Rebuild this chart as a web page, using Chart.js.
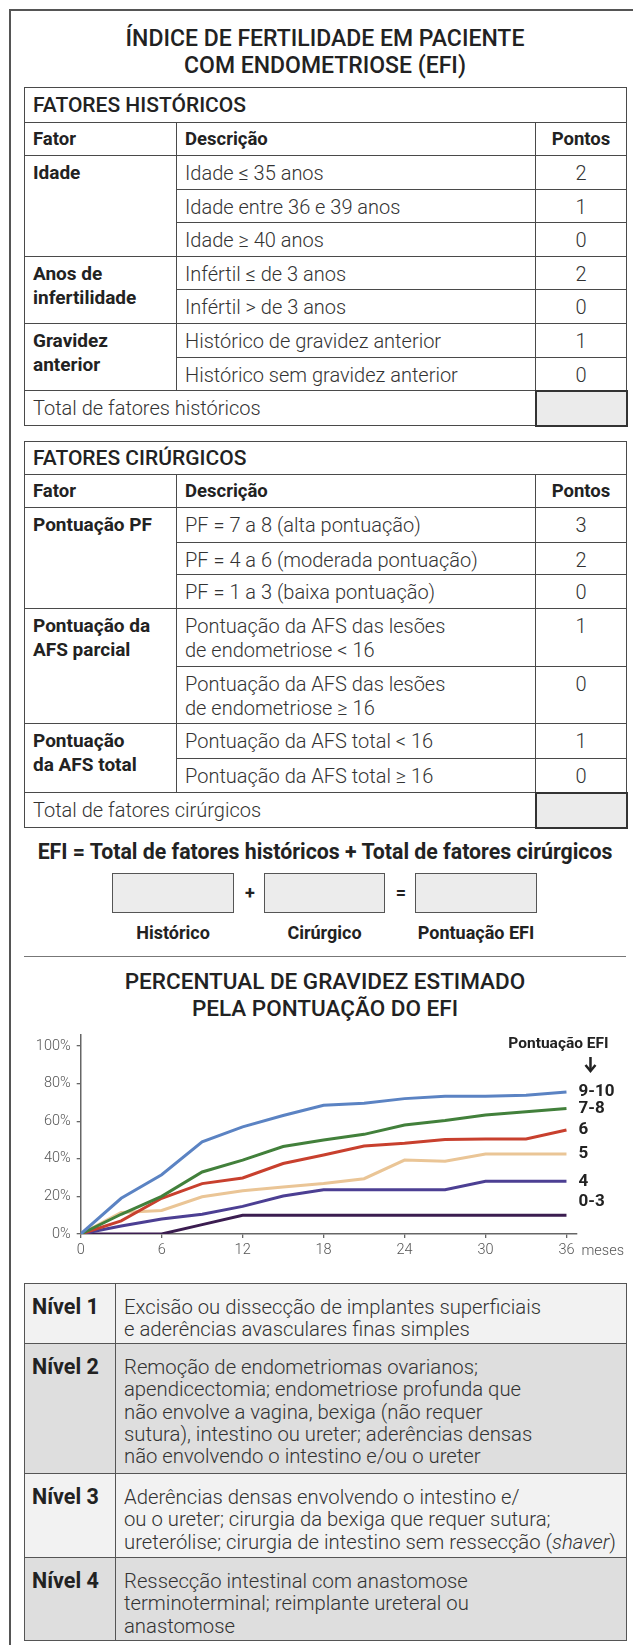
<!DOCTYPE html>
<html lang="pt">
<head>
<meta charset="utf-8">
<title>EFI</title>
<script src="https://cdn.jsdelivr.net/npm/chart.js@4.4.1/dist/chart.umd.min.js"></script>
<style>
  html, body { margin: 0; padding: 0; overflow: hidden; background: #fff; }
  body { width: 633px; height: 1645px; position: relative; font-family: Roboto, "Open Sans", sans-serif; color: #222; }
  .frame { position: absolute; left: 9px; top: 9px; width: 700px; height: 1700px; border-left: 2px solid #555; border-top: 2px solid #555; }
  .title { position: absolute; left: 24px; width: 602px; text-align: center; font-weight: 500; font-size: 23px; line-height: 27px; }
  table { position: absolute; left: 24px; width: 602px; border-collapse: collapse; table-layout: fixed; }
  td { border: 1.5px solid #4a4a4a; padding: 5px 8px 0 8px; vertical-align: top; line-height: 24px; font-size: 20px; }
  td.desc { font-weight: 300; color: #333; }
  td.pts { font-weight: 300; color: #333; text-align: center; }
  td.fac { font-weight: 700; color: #222; font-size: 19px; }
  tr.cap td { font-weight: 500; font-size: 21px; vertical-align: middle; padding-top: 0; }
  tr.head td { font-weight: 700; font-size: 18.5px; vertical-align: middle; padding-top: 0; }
  tr.tot td { font-weight: 300; color: #333; vertical-align: middle; padding-top: 0; }
  tr.tot td.sum { background: #ebebeb; border: 2px solid #333; }
  .formula { position: absolute; left: 14px; width: 622px; top: 837px; text-align: center; font-weight: 700; font-size: 21.3px; line-height: 30px; }
  .box { position: absolute; top: 873px; height: 38px; background: #ececec; border: 1.5px solid #555; }
  .op { position: absolute; top: 879px; font-weight: 700; font-size: 18px; line-height: 28px; width: 20px; text-align: center; }
  .lbl { position: absolute; top: 921px; font-weight: 700; font-size: 18px; line-height: 24px; text-align: center; }
  .rule { position: absolute; left: 24px; top: 956px; width: 602px; height: 0; border-top: 1.5px solid #777; }
  #efiChart { position: absolute; left: 0; top: 1020px; }
  table.niv td { border: 1.5px solid #555; padding: 12px 8px 0 8px; line-height: 22.3px; font-size: 20.3px; }
  table.niv td.lv { font-weight: 700; font-size: 21.5px; color: #222; padding-left: 7px; }
  table.niv td.tx { font-weight: 300; color: #333; }
  tr.lt td { background: #f2f2f2; }
  tr.dk td { background: #dedede; }
</style>
</head>
<body>
<div class="frame"></div>

<div class="title" style="top:25px">ÍNDICE DE FERTILIDADE EM PACIENTE<br>COM ENDOMETRIOSE (EFI)</div>

<table style="top:87px">
  <colgroup><col style="width:152px"><col style="width:359px"><col style="width:91px"></colgroup>
  <tr class="cap" style="height:35px"><td colspan="3">FATORES HISTÓRICOS</td></tr>
  <tr class="head" style="height:33px"><td>Fator</td><td>Descrição</td><td style="text-align:center">Pontos</td></tr>
  <tr style="height:33.6px"><td class="fac" rowspan="3">Idade</td><td class="desc">Idade ≤ 35 anos</td><td class="pts">2</td></tr>
  <tr style="height:33.6px"><td class="desc">Idade entre 36 e 39 anos</td><td class="pts">1</td></tr>
  <tr style="height:33.6px"><td class="desc">Idade ≥ 40 anos</td><td class="pts">0</td></tr>
  <tr style="height:33.6px"><td class="fac" rowspan="2">Anos de<br>infertilidade</td><td class="desc">Infértil ≤ de 3 anos</td><td class="pts">2</td></tr>
  <tr style="height:33.6px"><td class="desc">Infértil &gt; de 3 anos</td><td class="pts">0</td></tr>
  <tr style="height:33.6px"><td class="fac" rowspan="2">Gravidez<br>anterior</td><td class="desc">Histórico de gravidez anterior</td><td class="pts">1</td></tr>
  <tr style="height:33.6px"><td class="desc">Histórico sem gravidez anterior</td><td class="pts">0</td></tr>
  <tr class="tot" style="height:35px"><td colspan="2">Total de fatores históricos</td><td class="sum"></td></tr>
</table>

<table style="top:441px">
  <colgroup><col style="width:152px"><col style="width:359px"><col style="width:91px"></colgroup>
  <tr class="cap" style="height:33px"><td colspan="3">FATORES CIRÚRGICOS</td></tr>
  <tr class="head" style="height:33px"><td>Fator</td><td>Descrição</td><td style="text-align:center">Pontos</td></tr>
  <tr style="height:35px"><td class="fac" rowspan="3">Pontuação PF</td><td class="desc">PF = 7 a 8 (alta pontuação)</td><td class="pts">3</td></tr>
  <tr style="height:32px"><td class="desc">PF = 4 a 6 (moderada pontuação)</td><td class="pts">2</td></tr>
  <tr style="height:34px"><td class="desc">PF = 1 a 3 (baixa pontuação)</td><td class="pts">0</td></tr>
  <tr style="height:58px"><td class="fac" rowspan="2">Pontuação da<br>AFS parcial</td><td class="desc">Pontuação da AFS das lesões<br>de endometriose &lt; 16</td><td class="pts">1</td></tr>
  <tr style="height:57px"><td class="desc">Pontuação da AFS das lesões<br>de endometriose ≥ 16</td><td class="pts">0</td></tr>
  <tr style="height:35px"><td class="fac" rowspan="2">Pontuação<br>da AFS total</td><td class="desc">Pontuação da AFS total &lt; 16</td><td class="pts">1</td></tr>
  <tr style="height:34px"><td class="desc">Pontuação da AFS total ≥ 16</td><td class="pts">0</td></tr>
  <tr class="tot" style="height:35px"><td colspan="2">Total de fatores cirúrgicos</td><td class="sum"></td></tr>
</table>

<div class="formula">EFI = Total de fatores históricos + Total de fatores cirúrgicos</div>
<div class="box" style="left:112px;width:120px"></div>
<div class="op" style="left:240px">+</div>
<div class="box" style="left:264px;width:119px"></div>
<div class="op" style="left:391px">=</div>
<div class="box" style="left:415px;width:120px"></div>
<div class="lbl" style="left:92px;width:162px">Histórico</div>
<div class="lbl" style="left:244px;width:161px">Cirúrgico</div>
<div class="lbl" style="left:395px;width:162px">Pontuação EFI</div>
<div class="rule"></div>

<div class="title" style="top:968px;font-size:22.5px;line-height:26.5px">PERCENTUAL DE GRAVIDEZ ESTIMADO<br>PELA PONTUAÇÃO DO EFI</div>

<canvas id="efiChart" width="633" height="250"></canvas>

<table class="niv" style="top:1283px">
  <colgroup><col style="width:91px"><col style="width:511px"></colgroup>
  <tr class="lt" style="height:60px"><td class="lv">Nível 1</td><td class="tx">Excisão ou dissecção de implantes superficiais<br>e aderências avasculares finas simples</td></tr>
  <tr class="dk" style="height:130px"><td class="lv">Nível 2</td><td class="tx">Remoção de endometriomas ovarianos;<br>apendicectomia; endometriose profunda que<br>não envolve a vagina, bexiga (não requer<br>sutura), intestino ou ureter; aderências densas<br>não envolvendo o intestino e/ou o ureter</td></tr>
  <tr class="lt" style="height:84px"><td class="lv">Nível 3</td><td class="tx">Aderências densas envolvendo o intestino e/<br>ou o ureter; cirurgia da bexiga que requer sutura;<br>ureterólise; cirurgia de intestino sem ressecção (<i>shaver</i>)</td></tr>
  <tr class="dk" style="height:83px"><td class="lv">Nível 4</td><td class="tx">Ressecção intestinal com anastomose<br>terminoterminal; reimplante ureteral ou<br>anastomose</td></tr>
</table>

<script>
// months since surgery
const months = [0, 3, 6, 9, 12, 15, 18, 21, 24, 27, 30, 33, 36];

// estimated pregnancy rate (%) by EFI score
const efi9to10 = [0, 19, 31.5, 49, 57, 63, 68.5, 69.6, 72, 73.3, 73.3, 73.8, 75.5];
const efi7to8 = [0, 10.5, 20, 33, 39.3, 46.5, 50, 53, 58, 60.4, 63.3, 65, 66.8];
const efi6 = [0, 7, 19, 26.8, 29.8, 37.5, 42, 46.8, 48.3, 50.3, 50.5, 50.5, 55.3];
const efi5 = [0, 11.5, 12.5, 19.8, 23, 25, 26.8, 29.4, 39.3, 38.7, 42.6, 42.6, 42.6];
const efi4 = [0, 4.3, 8, 10.5, 14.7, 20.2, 23.5, 23.5, 23.5, 23.5, 28, 28, 28];
const efi0to3 = [0, 0, 0, 5, 10, 10, 10, 10, 10, 10, 10, 10, 10];

const seriesNames = ["9-10", "7-8", "6", "5", "4", "0-3"];
const seriesValues = [efi9to10, efi7to8, efi6, efi5, efi4, efi0to3];
const seriesColors = ["#5b83c3", "#42803b", "#c8402e", "#eac596", "#4c3f93", "#3b1d50"];
// where each score label sits on the y scale (%)
const labelAt = [75.5, 66.8, 55.3, 42.6, 28, 17];

const xTickStep = 6;
const yTickStep = 20;

Chart.defaults.font.family = "Roboto";

// labels at the right end of the lines, header and "meses"
const endLabels = {
    id: "endLabels",
    afterDraw(chart) {
        const ctx = chart.ctx;
        const x = chart.scales.x;
        const y = chart.scales.y;
        const xEnd = x.getPixelForValue(months[months.length - 1]);
        ctx.save();
        ctx.fillStyle = "#222";
        ctx.font = "bold 17px Roboto";
        ctx.textBaseline = "middle";
        ctx.textAlign = "left";
        seriesNames.forEach((name, i) => {
            ctx.fillText(name, xEnd + 12, y.getPixelForValue(labelAt[i]));
        });
        ctx.font = "bold 15.5px Roboto";
        ctx.textAlign = "center";
        ctx.fillText("Pontuação EFI", xEnd - 8, y.getPixelForValue(100) - 2);

        // down arrow
        const ax = xEnd + 24;
        const ay = y.getPixelForValue(100) + 11;
        ctx.strokeStyle = "#222";
        ctx.lineWidth = 2.5;
        ctx.beginPath();
        ctx.moveTo(ax, ay);
        ctx.lineTo(ax, ay + 14);
        ctx.stroke();
        ctx.beginPath();
        ctx.moveTo(ax - 5, ay + 8);
        ctx.lineTo(ax, ay + 14);
        ctx.lineTo(ax + 5, ay + 8);
        ctx.stroke();

        ctx.font = "300 14.5px Roboto";
        ctx.fillStyle = "#555";
        ctx.textAlign = "left";
        ctx.fillText("meses", xEnd + 15, x.top + 17);
        ctx.restore();
    }
};

const ctx = document.getElementById("efiChart").getContext("2d");
new Chart(ctx, {
    type: "line",
    data: {
        datasets: seriesNames.map((name, i) => ({
            label: name,
            data: months.map((m, j) => ({ x: m, y: seriesValues[i][j] })),
            borderColor: seriesColors[i],
            borderWidth: 3,
            pointRadius: 0,
            tension: 0,
            fill: false
        }))
    },
    options: {
        responsive: false,
        animation: false,
        devicePixelRatio: 1,
        layout: { padding: { top: 12, right: 56.4, left: 0, bottom: 0 } },
        plugins: { legend: { display: false }, tooltip: { enabled: false } },
        scales: {
            x: {
                type: "linear",
                min: 0,
                max: 36.75,
                afterFit(scale) { scale.height = 36; },
                ticks: {
                    stepSize: xTickStep,
                    includeBounds: false,
                    maxRotation: 0,
                    color: "#555",
                    padding: 4,
                    font: { size: 14.5, weight: "300" }
                },
                grid: { drawOnChartArea: false, tickLength: 4, color: "#666", lineWidth: 1.3 },
                border: { color: "#666", width: 1.5 }
            },
            y: {
                min: 0,
                max: 106,
                afterFit(scale) { scale.width = 80.7; },
                ticks: {
                    stepSize: yTickStep,
                    includeBounds: false,
                    callback: v => v + "%",
                    color: "#555",
                    padding: 6,
                    font: { size: 14.5, weight: "300" }
                },
                grid: { drawOnChartArea: false, tickLength: 4, color: "#666", lineWidth: 1.3 },
                border: { color: "#666", width: 1.5 }
            }
        }
    },
    plugins: [endLabels]
});
</script>
</body>
</html>
